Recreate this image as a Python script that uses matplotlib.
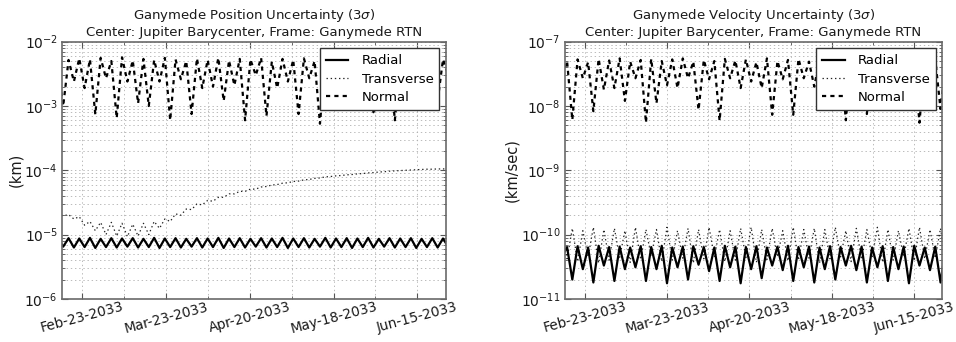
import numpy as np
import matplotlib
matplotlib.use("Agg")
import matplotlib.pyplot as plt
import matplotlib.dates as mdates
from matplotlib.ticker import FixedLocator, LogLocator, NullFormatter
from matplotlib.lines import Line2D

plt.rcParams["font.family"] = ["DejaVu Sans"]
plt.rcParams["mathtext.fontset"] = "dejavusans"
plt.rcParams["lines.scale_dashes"] = False

# ---------------------------------------------------------------------------
# Time frame of the covariance propagation
span_start = np.datetime64("2033-02-16T05:00")
span_days = 128.4
half_cycle = 1.7885          # days between successive extrema (3.577-day beat / 2)
pos_first_day = -1.4         # day of the first position extremum
vel_first_day = -0.99        # day of the first velocity extremum

major_dates = ["2033-02-23", "2033-03-23", "2033-04-20", "2033-05-18", "2033-06-15"]
minor_dates = ["2033-03-09", "2033-04-06", "2033-05-04", "2033-06-01"]

# ---------------------------------------------------------------------------
# Position uncertainty (km), alternating extrema
pos_radial_peaks = [8.6, 8.8, 8.7, 8.9, 8.6, 8.8, 8.7, 8.8, 8.6, 8.9, 8.7, 8.8, 8.6,
                    8.8, 8.7, 8.9, 8.7, 8.8, 8.6, 8.8, 8.7, 8.9, 8.7, 8.8, 8.6, 8.9,
                    8.7, 8.8, 8.7, 8.9, 8.6, 8.8, 8.7, 8.8, 8.6, 8.8, 8.7]          # x1e-6
pos_radial_troughs = [6.5, 6.3, 6.4, 6.2, 6.4, 6.3, 6.5, 6.3, 6.4, 6.2, 6.4, 6.3, 6.5,
                      6.3, 6.4, 6.2, 6.4, 6.3, 6.5, 6.3, 6.4, 6.2, 6.4, 6.3, 6.5, 6.3,
                      6.4, 6.2, 6.4, 6.3, 6.5, 6.3, 6.4, 6.2, 6.4, 6.3, 6.4]        # x1e-6
pos_transverse = [2.15, 1.95, 2.05, 1.75, 1.9, 1.4, 1.6, 1.15, 1.55, 1.0, 1.55, 0.95,
                  1.5, 0.93, 1.45, 0.95, 1.5, 1.0, 1.6, 1.25, 1.75, 1.6, 2.1, 2.0,
                  2.5, 2.45, 3.0, 2.9, 3.4, 3.3, 3.8, 3.8, 4.3, 4.3, 4.7, 4.7,
                  5.1, 5.1, 5.5, 5.6, 5.9, 6.0, 6.3, 6.4, 6.7, 6.8, 7.1, 7.2,
                  7.5, 7.6, 7.9, 8.0, 8.2, 8.3, 8.5, 8.6, 8.8, 8.9, 9.1, 9.2,
                  9.4, 9.5, 9.7, 9.8, 9.9, 10.0, 10.1, 10.2, 10.3, 10.4, 10.4, 10.5,
                  10.5, 10.6]                                                     # x1e-5
pos_normal_peaks = [4.0, 5.2, 5.5, 5.3, 5.6, 5.0, 5.7, 5.1, 5.4, 5.2, 5.6, 5.3, 5.0,
                    5.5, 5.2, 5.6, 5.1, 5.4, 5.3, 5.6, 4.9, 5.4, 5.2, 5.5, 5.0, 5.3,
                    5.1, 5.5, 5.2, 5.4, 5.0, 5.3, 5.1, 5.5, 5.2, 5.0, 5.3]          # x1e-3
pos_normal_troughs = [1.0, 2.4, 1.9, 0.74, 2.7, 0.65, 2.4, 1.1, 1.0, 2.4, 0.6, 2.6,
                      0.75, 1.9, 2.0, 1.2, 2.1, 0.6, 3.0, 0.7, 1.9, 2.4, 0.75, 2.7,
                      0.53, 2.5, 2.2, 1.8, 2.5, 0.8, 2.0, 0.6, 2.4, 1.5, 2.6, 1.2,
                      3.0]                                                          # x1e-3

# ---------------------------------------------------------------------------
# Velocity uncertainty (km/sec), alternating extrema
vel_radial_troughs = [4.5, 2.0, 2.9, 1.8, 3.3, 1.9, 2.9, 3.1, 1.9, 2.9, 1.75, 3.1, 2.0,
                      3.4, 2.7, 1.9, 3.1, 1.75, 2.9, 2.1, 3.3, 2.8, 1.9, 3.1, 1.8,
                      2.9, 2.0, 3.3, 2.8, 1.8, 3.1, 1.9, 2.9, 1.75, 3.3, 2.8, 1.8]  # x1e-11
vel_radial_peaks = [6.4, 6.6, 6.3, 6.7, 6.4, 6.5, 6.3, 6.6, 6.4, 6.7, 6.3, 6.5, 6.6,
                    6.4, 6.3, 6.7, 6.5, 6.4, 6.6, 6.3, 6.5, 6.7, 6.4, 6.5, 6.3, 6.6,
                    6.4, 6.7, 6.5, 6.3, 6.6, 6.4, 6.5, 6.7, 6.3, 6.5, 6.4]          # x1e-11
vel_transverse_peaks = [1.2, 1.25, 1.15, 1.3, 1.2, 1.25, 1.15, 1.3, 1.2, 1.2, 1.3, 1.15,
                        1.25, 1.2, 1.3, 1.2, 1.15, 1.25, 1.3, 1.2, 1.25, 1.15, 1.3,
                        1.2, 1.25, 1.2, 1.3, 1.15, 1.25, 1.2, 1.3, 1.2, 1.15, 1.25,
                        1.3, 1.2, 1.25]                                             # x1e-10
vel_transverse_troughs = [4.2, 3.8, 4.5, 3.6, 4.0, 4.4, 3.7, 4.1, 4.6, 3.8, 4.0, 4.3,
                          3.6, 4.2, 4.5, 3.8, 4.0, 4.4, 3.7, 4.1, 4.5, 3.9, 4.0, 4.3,
                          3.6, 4.2, 4.5, 3.8, 4.1, 4.4, 3.7, 4.0, 4.5, 3.9, 4.2, 4.3,
                          3.8]                                                      # x1e-11
vel_normal_troughs = [3.0, 0.61, 2.7, 0.83, 1.8, 1.9, 1.2, 2.7, 0.55, 1.1, 2.1, 1.9,
                      2.7, 0.87, 2.6, 0.59, 2.7, 1.9, 2.4, 1.9, 0.73, 2.6, 0.73, 2.7,
                      2.0, 2.5, 2.2, 0.6, 2.4, 0.75, 2.3, 1.8, 2.5, 2.0, 0.55, 2.4,
                      0.9]                                                          # x1e-8
vel_normal_peaks = [5.0, 5.3, 4.8, 5.4, 5.1, 5.5, 4.9, 5.2, 5.4, 5.0, 5.3, 5.5, 4.9,
                    5.2, 5.0, 5.4, 5.1, 5.3, 4.8, 5.5, 5.0, 5.2, 5.4, 4.9, 5.3, 5.1,
                    5.5, 5.0, 5.2, 4.9, 5.4, 5.1, 5.3, 5.0, 5.2, 5.4, 5.0]          # x1e-8


def interleave(first, second, scale):
    out = np.empty(len(first) + len(second))
    out[0::2] = first
    out[1::2] = second
    return out * scale


def epoch_dates(first_day, count):
    days = first_day + half_cycle * np.arange(count)
    return span_start + (days * 86400).astype("timedelta64[s]")


pos_r = interleave(pos_radial_peaks, pos_radial_troughs, 1e-6)
pos_t = np.array(pos_transverse) * 1e-5
pos_n = interleave(pos_normal_peaks, pos_normal_troughs, 1e-3)
pos_dates = epoch_dates(pos_first_day, len(pos_r))

vel_r = interleave(vel_radial_troughs, vel_radial_peaks, 1e-11)
vel_t = interleave(np.array(vel_transverse_peaks) * 10, vel_transverse_troughs, 1e-11)
vel_n = interleave(vel_normal_troughs, vel_normal_peaks, 1e-8)
vel_dates = epoch_dates(vel_first_day, len(vel_r))

span_end = span_start + np.timedelta64(int(span_days * 86400), "s")

# ---------------------------------------------------------------------------
fig = plt.figure(figsize=(9.56, 3.42), dpi=100)
ax_pos = fig.add_axes([0.0649, 0.126, 0.4017, 0.7521])
ax_vel = fig.add_axes([0.5907, 0.126, 0.3950, 0.7521])

style_r = dict(color="black", lw=1.6, ls="-")
style_t = dict(color="#222222", lw=0.9, ls=(0, (1, 2)))
style_n = dict(color="black", lw=1.6, ls=(0, (3.0, 3.0)))

panels = [
    (ax_pos, pos_dates, pos_r, pos_t, pos_n, (1e-6, 1e-2), "(km)",
     "Ganymede Position Uncertainty (3$\\sigma$)"),
    (ax_vel, vel_dates, vel_r, vel_t, vel_n, (1e-11, 1e-7), "(km/sec)",
     "Ganymede Velocity Uncertainty (3$\\sigma$)"),
]

for ax, dates, r, t, n, ylim, ylabel, title in panels:
    ax.plot(dates, n, **style_n)
    ax.plot(dates, t, **style_t)
    ax.plot(dates, r, **style_r)
    ax.set_yscale("log")
    ax.set_ylim(*ylim)
    ax.set_xlim(span_start, span_end)

    ax.xaxis.set_major_locator(FixedLocator(mdates.datestr2num(major_dates)))
    ax.xaxis.set_minor_locator(FixedLocator(mdates.datestr2num(minor_dates)))
    ax.xaxis.set_major_formatter(mdates.DateFormatter("%b-%d-%Y"))
    ax.xaxis.set_minor_formatter(NullFormatter())
    ax.yaxis.set_minor_locator(LogLocator(base=10, subs=np.arange(2, 10)))
    ax.yaxis.set_minor_formatter(NullFormatter())

    ax.grid(True, which="both", ls=(0, (1, 2)), color="#b0b0b0", lw=0.6)
    ax.set_axisbelow(True)
    ax.tick_params(which="both", direction="in", top=True, right=True, color="#555555")
    ax.tick_params(which="major", length=4, labelsize=10, pad=3, labelcolor="#1a1a1a")
    ax.tick_params(axis="x", which="major", labelsize=9.8, pad=0.5)
    ax.tick_params(which="minor", length=2)
    for lab in ax.get_xticklabels():
        lab.set_rotation(15)
        lab.set_ha("center")
    for sp in ax.spines.values():
        sp.set_color("#6a6a6a")
        sp.set_linewidth(1.2)

    ax.set_ylabel(ylabel, fontsize=10.5, color="#1a1a1a")
    ax.set_title(title + "\nCenter: Jupiter Barycenter, Frame: Ganymede RTN",
                 fontsize=9.5, color="#1a1a1a", pad=4, linespacing=1.2)

    handles = [Line2D([], [], **style_r), Line2D([], [], **style_t), Line2D([], [], **style_n)]
    leg = ax.legend(handles, ["Radial", "Transverse", "Normal"], loc="upper right",
                    fontsize=9.5, fancybox=False, framealpha=1.0, edgecolor="#333333",
                    borderaxespad=0.5, handlelength=1.7, labelspacing=0.4,
                    borderpad=0.45, handletextpad=1.0)
    leg.get_frame().set_linewidth(1.0)

ax_pos.yaxis.set_label_coords(-0.1, 0.5)
ax_vel.yaxis.set_label_coords(-0.12, 0.5)

fig.savefig("out.png", dpi=100)
